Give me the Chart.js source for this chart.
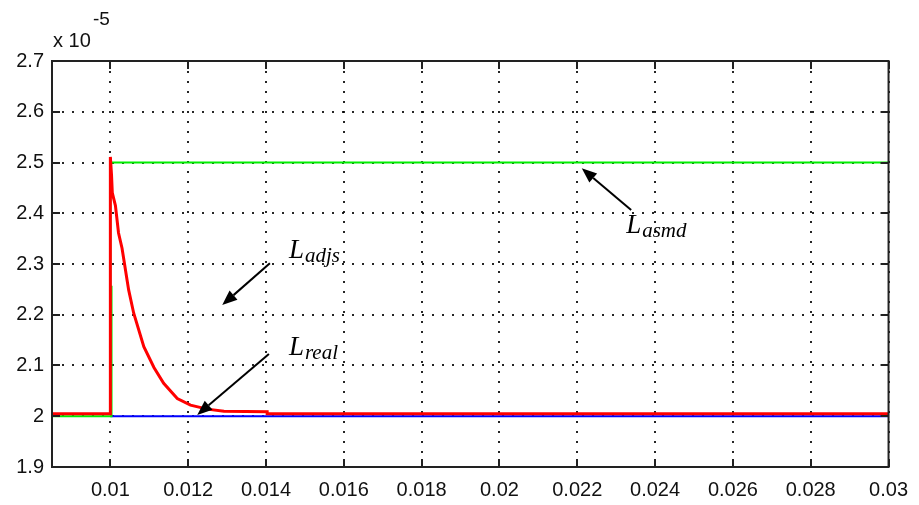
<!DOCTYPE html>
<html><head><meta charset="utf-8">
<script src="https://cdn.jsdelivr.net/npm/chart.js@4/dist/chart.umd.min.js"></script>
<style>html,body{margin:0;padding:0;background:#fff;} #wrap{width:919px;height:505px;}</style>
</head><body><div id="wrap"><canvas id="c" width="919" height="505"></canvas></div>
<script>
// ---- data ----
const xTicks = [0.01, 0.012, 0.014, 0.016, 0.018, 0.02, 0.022, 0.024, 0.026, 0.028, 0.03];
const xTickLabels = ['0.01','0.012','0.014','0.016','0.018','0.02','0.022','0.024','0.026','0.028','0.03'];
const yTicks = [1.9, 2.0, 2.1, 2.2, 2.3, 2.4, 2.5, 2.6, 2.7];
const yTickLabels = ['1.9','2','2.1','2.2','2.3','2.4','2.5','2.6','2.7'];
const yExponent = '-5';

// L_adjs (red)
const adjsX = [0.0085, 0.01, 0.01, 0.01003, 0.01005, 0.01013, 0.01021, 0.0103, 0.01036, 0.01043, 0.01047, 0.0106, 0.01086, 0.01112, 0.01137, 0.01172, 0.01206, 0.01249, 0.01292, 0.01403, 0.01403, 0.03];
const adjsY = [2.005, 2.005, 2.511, 2.475, 2.44, 2.415, 2.361, 2.331, 2.302, 2.268, 2.249, 2.203, 2.137, 2.096, 2.065, 2.035, 2.022, 2.014, 2.010, 2.009, 2.005, 2.005];
// L_asmd (green)
const asmdX = [0.0085, 0.01003, 0.01003, 0.01, 0.01, 0.01004, 0.03];
const asmdY = [2.0, 2.0, 2.255, 2.255, 2.5, 2.5, 2.5];
// L_real (blue)
const realX = [0.01, 0.03];
const realY = [2.0, 2.0];

// annotations: label text, subscript, label anchor and arrow (data coords)
const notes = [
  {main:'L', sub:'adjs', tx:0.01459, ty:2.312, ax1:0.01410, ay1:2.3014, ax2:0.012875, ay2:2.2192},
  {main:'L', sub:'real', tx:0.01459, ty:2.121, ax1:0.014075, ay1:2.1227, ax2:0.012232, ay2:2.0025},
  {main:'L', sub:'asmd', tx:0.023256, ty:2.361, ax1:0.023385, ay1:2.4064, ax2:0.022116, ay2:2.4886}
];

const toPts = (xs, ys) => xs.map((x, i) => ({x: x, y: ys[i]}));

const framePlugin = {
  id: 'frame',
  afterDraw(chart) {
    const ctx = chart.ctx, a = chart.chartArea;
    const xs = chart.scales.x, ys = chart.scales.y;
    ctx.save();
    // inner ticks
    ctx.strokeStyle = '#222';
    ctx.lineWidth = 2;
    const tl = 8;
    ctx.beginPath();
    xTicks.forEach(v => {
      const px = Math.round(xs.getPixelForValue(v));
      ctx.moveTo(px, a.bottom); ctx.lineTo(px, a.bottom - tl);
      ctx.moveTo(px, a.top); ctx.lineTo(px, a.top + tl);
    });
    yTicks.forEach(v => {
      const py = Math.round(ys.getPixelForValue(v));
      ctx.moveTo(a.left, py); ctx.lineTo(a.left + tl, py);
      ctx.moveTo(a.right, py); ctx.lineTo(a.right - tl, py);
    });
    ctx.stroke();
    // frame
    ctx.strokeRect(a.left, a.top, a.right - a.left, a.bottom - a.top);
    // exponent label
    ctx.fillStyle = '#111';
    ctx.textBaseline = 'alphabetic';
    ctx.textAlign = 'left';
    ctx.font = '20px "Liberation Sans", Arial, sans-serif';
    ctx.fillText('x 10', a.left + 1, a.top - 14);
    ctx.font = '19px "Liberation Sans", Arial, sans-serif';
    ctx.fillText(yExponent, a.left + 41, a.top - 36);
    // annotations
    notes.forEach(n => {
      const x1 = xs.getPixelForValue(n.ax1), y1 = ys.getPixelForValue(n.ay1);
      const x2 = xs.getPixelForValue(n.ax2), y2 = ys.getPixelForValue(n.ay2);
      const ang = Math.atan2(y2 - y1, x2 - x1);
      const hl = 15, hw = 6;
      const bx = x2 - hl * Math.cos(ang), by = y2 - hl * Math.sin(ang);
      ctx.strokeStyle = '#000'; ctx.fillStyle = '#000'; ctx.lineWidth = 2;
      ctx.beginPath(); ctx.moveTo(x1, y1); ctx.lineTo(bx, by); ctx.stroke();
      ctx.beginPath();
      ctx.moveTo(x2, y2);
      ctx.lineTo(bx + hw * Math.sin(ang), by - hw * Math.cos(ang));
      ctx.lineTo(bx - hw * Math.sin(ang), by + hw * Math.cos(ang));
      ctx.closePath(); ctx.fill();
      const tx = xs.getPixelForValue(n.tx), ty = ys.getPixelForValue(n.ty);
      ctx.font = 'italic 27px "Liberation Serif", "Times New Roman", serif';
      ctx.fillText(n.main, tx, ty);
      const w = ctx.measureText(n.main).width;
      ctx.font = 'italic 21px "Liberation Serif", "Times New Roman", serif';
      ctx.fillText(n.sub, tx + w + 1, ty + 4);
    });
    ctx.restore();
  }
};

const tickFont = {family: '"Liberation Sans", Arial, sans-serif', size: 20};

new Chart(document.getElementById('c'), {
  type: 'line',
  data: {
    datasets: [
      {label: 'L_adjs', data: toPts(adjsX, adjsY), borderColor: '#ff0000', borderWidth: 3, pointRadius: 0, tension: 0, fill: false},
      {label: 'L_asmd', data: toPts(asmdX, asmdY), borderColor: '#00ee00', borderWidth: 2, pointRadius: 0, tension: 0, fill: false},
      {label: 'L_real', data: toPts(realX, realY), borderColor: '#0000ff', borderWidth: 2, pointRadius: 0, tension: 0, fill: false}
    ]
  },
  options: {
    responsive: false,
    animation: false,
    devicePixelRatio: 1,
    layout: {padding: {left: 0, right: 29, top: 61, bottom: 0}},
    plugins: {legend: {display: false}, tooltip: {enabled: false}},
    scales: {
      x: {
        type: 'linear', min: 0.0085, max: 0.03,
        afterBuildTicks: s => { s.ticks = xTicks.map(v => ({value: v})); },
        afterFit: s => { s.height = 38; },
        ticks: {callback: (v, i) => xTickLabels[i], font: tickFont, color: '#111', padding: 11, maxRotation: 0, autoSkip: false},
        grid: {color: 'rgba(0,0,0,0.85)', lineWidth: 2, drawTicks: false},
        border: {display: false, dash: [2, 8]}
      },
      y: {
        type: 'linear', min: 1.9, max: 2.7,
        afterBuildTicks: s => { s.ticks = yTicks.map(v => ({value: v})); },
        afterFit: s => { s.width = 52; },
        ticks: {callback: (v, i) => yTickLabels[i], font: tickFont, color: '#111', padding: 8, autoSkip: false},
        grid: {color: 'rgba(0,0,0,0.85)', lineWidth: 2, drawTicks: false},
        border: {display: false, dash: [2, 8]}
      }
    }
  },
  plugins: [framePlugin]
});
</script>
</body></html>
